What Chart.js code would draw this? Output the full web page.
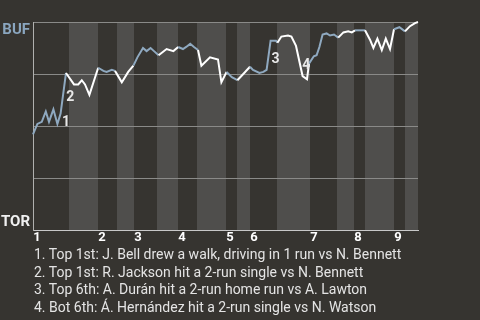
<!DOCTYPE html>
<html>
<head>
<meta charset="utf-8">
<script src="https://cdn.jsdelivr.net/npm/chart.js@4/dist/chart.umd.min.js"></script>
<style>
  html, body { margin: 0; padding: 0; background: #363430; }
  #wrap { position: relative; width: 480px; height: 320px; overflow: hidden; }
  #notes {
    position: absolute; left: 34px; top: 246px;
    font: 14px Roboto, sans-serif; line-height: 17.6px; color: #e4e4e4;
    white-space: nowrap;
  }
</style>
</head>
<body>
<div id="wrap">
  <canvas id="wp" width="480" height="248"></canvas>
  <div id="notes"></div>
</div>
<script>
// half-inning starts, in plays (top 1st, bot 1st, top 2nd, ...)
const halfStarts = [0, 9, 16.25, 21, 25.25, 31, 36.25, 41, 48.25, 51, 54.25, 61, 69.25, 76, 80.25, 83, 90.25, 93];
const gameEnd = 96.25;
const innings = ['1', '2', '3', '4', '5', '6', '7', '8', '9'];

// play position and BUF win probability after each play
const plays = [0, 1.1, 2.2, 3.2, 4.0, 5.1, 6.1, 6.9, 8.25,
  10.25, 11.3, 12.2, 13, 14.1, 16.3,
  17.6, 18.4, 19.7, 20.5,
  22.2, 23.8, 25.1,
  26.1, 27.5, 28.4, 29.4, 30.25,
  31.4, 33.4, 35.1,
  36.3, 37.5, 38.3, 39.3, 40.25,
  41.25, 42.1, 44.25, 46.25, 47.1, 48.4,
  49.7, 51.1,
  54.25,
  55, 56.6, 57.6, 58.4, 59.4, 60.75,
  61.1, 62.1, 63.75, 64.6, 65.75, 67.4, 68.5,
  69, 70.2, 70.9, 71.6, 72.4, 73.4, 74.25, 75.25,
  76.3, 77.6, 78.8, 79.7,
  80.5, 83,
  84.25, 85.1, 86.1, 87.2, 88.2, 89.25, 90.25,
  91.6, 93,
  94.25, 95.5, 96.25];
const winProb = [0.46, 0.51, 0.52, 0.57, 0.52, 0.58, 0.51, 0.56, 0.755,
  0.70, 0.70, 0.72, 0.70, 0.65, 0.78,
  0.765, 0.76, 0.77, 0.765,
  0.71, 0.76, 0.79,
  0.83, 0.875, 0.86, 0.875, 0.86,
  0.84, 0.87, 0.86,
  0.88, 0.87, 0.88, 0.895, 0.88,
  0.865, 0.79, 0.83, 0.82, 0.71, 0.76,
  0.735, 0.72,
  0.785,
  0.77, 0.755, 0.76, 0.77, 0.91, 0.91,
  0.90, 0.93, 0.935, 0.93, 0.885, 0.74, 0.725,
  0.80, 0.835, 0.84, 0.88, 0.94, 0.945, 0.935, 0.94,
  0.925, 0.95, 0.955, 0.95,
  0.96, 0.96,
  0.915, 0.875, 0.92, 0.865, 0.92, 0.87, 0.965,
  0.975, 0.955,
  0.98, 0.995, 1.0];

// key plays: index of the point reached by each play
const eventIdx = [7, 8, 48, 55];
const eventText = [
  '1. Top 1st: J. Bell drew a walk, driving in 1 run vs N. Bennett',
  '2. Top 1st: R. Jackson hit a 2-run single vs N. Bennett',
  '3. Top 6th: A. Durán hit a 2-run home run vs A. Lawton',
  '4. Bot 6th: Á. Hernández hit a 2-run single vs N. Watson'
];

const BLUE = '#8fa9c0';
const WHITE = '#ffffff';

document.getElementById('notes').innerHTML = eventText.map(t => '<div>' + t + '</div>').join('');

function halfOf(x) {
  let h = 0;
  for (let i = 0; i < halfStarts.length; i++) {
    if (x >= halfStarts[i]) h = i;
  }
  return h;
}

const bandsPlugin = {
  id: 'bands',
  beforeDraw(chart) {
    const ctx = chart.ctx, area = chart.chartArea, xs = chart.scales.x;
    ctx.save();
    for (let i = 0; i < halfStarts.length; i++) {
      const x0 = xs.getPixelForValue(halfStarts[i]);
      const x1 = xs.getPixelForValue(i + 1 < halfStarts.length ? halfStarts[i + 1] : gameEnd);
      ctx.fillStyle = i % 2 === 0 ? '#363430' : '#4f4e4c';
      ctx.fillRect(x0, area.top, x1 - x0, area.bottom - area.top);
    }
    ctx.restore();
  },
  afterDraw(chart) {
    const ctx = chart.ctx, area = chart.chartArea;
    ctx.save();
    ctx.font = 'bold 15px Roboto';
    ctx.textAlign = 'right';
    ctx.textBaseline = 'alphabetic';
    ctx.fillStyle = '#8aa6bf';
    ctx.fillText('BUF', 30, area.top + 11.5);
    ctx.fillStyle = '#f0f0f0';
    ctx.fillText('TOR', 30, area.bottom - 4.5);

    const pts = chart.getDatasetMeta(0).data;
    ctx.font = 'bold 14px Roboto';
    ctx.textAlign = 'left';
    ctx.textBaseline = 'middle';
    ctx.fillStyle = '#e8e8e8';
    eventIdx.forEach((idx, k) => {
      const a = pts[idx - 1], b = pts[idx];
      const mx = (a.x + b.x) / 2, my = (a.y + b.y) / 2;
      ctx.fillText(String(k + 1), mx + 3, my + 4);
    });
    ctx.restore();
  }
};

new Chart(document.getElementById('wp'), {
  type: 'line',
  data: {
    datasets: [{
      data: plays.map((p, i) => ({ x: p, y: winProb[i] })),
      borderWidth: 2,
      borderColor: WHITE,
      pointRadius: 0,
      tension: 0,
      clip: false,
      segment: {
        borderColor: c => halfOf((c.p0.parsed.x + c.p1.parsed.x) / 2) % 2 === 0 ? BLUE : WHITE
      }
    }]
  },
  options: {
    responsive: false,
    devicePixelRatio: 1,
    animation: false,
    layout: { padding: { left: 33, top: 22, right: 62, bottom: 0 } },
    plugins: { legend: { display: false }, tooltip: { enabled: false } },
    scales: {
      x: {
        type: 'linear',
        min: 0,
        max: gameEnd,
        grid: { display: false, drawTicks: false },
        border: { color: '#c8c8c8', width: 1 },
        afterBuildTicks: s => {
          s.ticks = halfStarts.filter((v, i) => i % 2 === 0).map(v => ({ value: v + 1 }));
        },
        afterFit: s => { s.height = 18; },
        ticks: {
          autoSkip: false,
          maxRotation: 0,
          padding: 0,
          color: '#ffffff',
          font: { family: 'Roboto', size: 13, weight: 'bold' },
          callback: (v, i) => innings[i]
        }
      },
      y: {
        min: 0,
        max: 1,
        grid: { color: '#8a8a88', drawTicks: false },
        border: { color: '#b0b0ae', width: 1 },
        afterFit: s => { s.width = 0; },
        ticks: { display: false, stepSize: 0.25 }
      }
    }
  },
  plugins: [bandsPlugin]
});
</script>
</body>
</html>
